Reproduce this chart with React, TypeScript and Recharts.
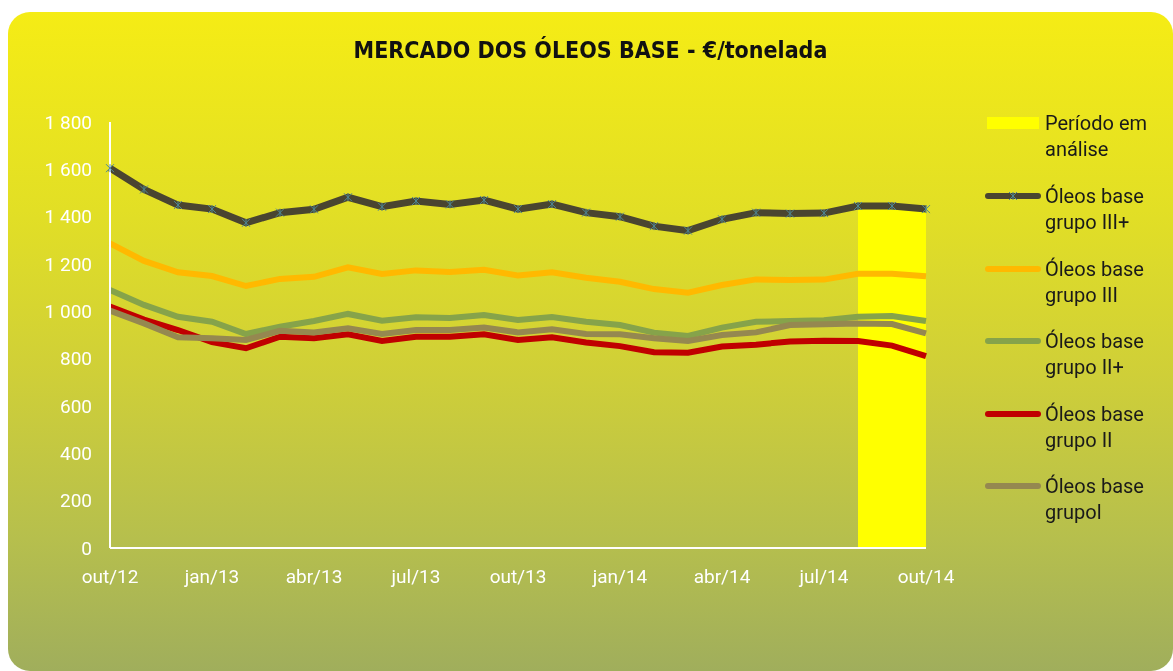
import React from 'react';
import { ComposedChart, Line, Area, XAxis, YAxis } from 'recharts';

// meses (out/12 a out/14)
const months = [
  'out/12', 'nov/12', 'dez/12', 'jan/13', 'fev/13', 'mar/13', 'abr/13', 'mai/13', 'jun/13',
  'jul/13', 'ago/13', 'set/13', 'out/13', 'nov/13', 'dez/13', 'jan/14', 'fev/14', 'mar/14',
  'abr/14', 'mai/14', 'jun/14', 'jul/14', 'ago/14', 'set/14', 'out/14',
];

const periodoAnalise = [
  null, null, null, null, null, null, null, null, null, null, null, null, null,
  null, null, null, null, null, null, null, null, null, 1445, 1445, 1432,
];
const grupoIIIPlus = [1605, 1515, 1449, 1432, 1374, 1417, 1431, 1482, 1442, 1466, 1452, 1470, 1432, 1453, 1417, 1400, 1360, 1341, 1389, 1417, 1413, 1415, 1445, 1445, 1432];
const grupoIII = [1287, 1213, 1165, 1149, 1107, 1137, 1146, 1186, 1158, 1173, 1166, 1176, 1151, 1165, 1142, 1125, 1094, 1079, 1111, 1135, 1132, 1134, 1159, 1159, 1148];
const grupoIIPlus = [1090, 1027, 977, 956, 904, 935, 959, 989, 960, 975, 972, 984, 963, 976, 956, 942, 910, 896, 931, 956, 959, 962, 977, 980, 959];
const grupoII = [1020, 965, 921, 870, 844, 893, 886, 903, 875, 893, 893, 903, 879, 890, 868, 853, 827, 825, 851, 859, 873, 876, 875, 855, 811];
const grupoI = [1003, 949, 890, 886, 879, 918, 911, 928, 904, 921, 921, 932, 911, 924, 904, 903, 886, 875, 900, 911, 942, 945, 949, 946, 907];

const yTicks = [0, 200, 400, 600, 800, 1000, 1200, 1400, 1600, 1800];

const series = [
  { key: 'g3p', name: ['Óleos base', 'grupo III+'], color: '#4a4530', width: 7 },
  { key: 'g3', name: ['Óleos base', 'grupo III'], color: '#ffb900', width: 6 },
  { key: 'g2p', name: ['Óleos base', 'grupo II+'], color: '#86a34a', width: 6 },
  { key: 'g2', name: ['Óleos base', 'grupo II'], color: '#c00000', width: 6 },
  { key: 'g1', name: ['Óleos base', 'grupol'], color: '#958850', width: 6 },
];

const data = months.map((m, i) => ({
  month: m,
  periodo: periodoAnalise[i],
  g3p: grupoIIIPlus[i],
  g3: grupoIII[i],
  g2p: grupoIIPlus[i],
  g2: grupoII[i],
  g1: grupoI[i],
}));

const fmtThousands = (v: number) =>
  v >= 1000 ? `${Math.floor(v / 1000)} ${String(v % 1000).padStart(3, '0')}` : String(v);

const StarDot: React.FC<any> = ({ cx, cy }) => {
  if (cx == null || cy == null) return null;
  const r = 4;
  return (
    <g stroke="#4f8794" strokeWidth={1}>
      <line x1={cx - r} y1={cy - r} x2={cx + r} y2={cy + r} />
      <line x1={cx - r} y1={cy + r} x2={cx + r} y2={cy - r} />
      <line x1={cx} y1={cy - r} x2={cx} y2={cy + r} />
    </g>
  );
};

const font = "Roboto, 'DejaVu Sans', sans-serif";

const App: React.FC = () => {
  return (
    <div
      style={{
        position: 'fixed',
        left: 8,
        top: 12,
        width: 1165,
        height: 659,
        borderRadius: 22,
        background: 'linear-gradient(to bottom, #f5ec15 0%, #e2df25 30%, #cfcf38 55%, #b6bf4d 80%, #a0ae5c 100%)',
        overflow: 'hidden',
      }}
    >
      <div
        style={{
          position: 'absolute',
          top: 25,
          left: 0,
          width: 1165,
          textAlign: 'center',
          fontFamily: "'Liberation Sans Narrow', 'DejaVu Sans Condensed', sans-serif",
          fontWeight: 'bold',
          fontSize: 23,
          lineHeight: '26px',
          color: '#111',
        }}
      >
        MERCADO DOS ÓLEOS BASE - €/tonelada
      </div>

      <div style={{ position: 'absolute', left: 0, top: 0 }}>
        <ComposedChart
          width={1165}
          height={659}
          data={data}
          margin={{ top: 110, right: 247, left: 42, bottom: 73 }}
        >
          <XAxis
            dataKey="month"
            interval={2}
            height={50}
            axisLine={{ stroke: '#ffffff', strokeWidth: 2 }}
            tickLine={false}
            tickSize={0}
            tickMargin={22}
            tick={{ fill: '#ffffff', fontSize: 19, fontFamily: font }}
          />
          <YAxis
            width={60}
            domain={[0, 1800]}
            ticks={yTicks}
            tickFormatter={fmtThousands}
            axisLine={{ stroke: '#ffffff', strokeWidth: 2 }}
            tickLine={false}
            tickSize={0}
            tickMargin={18}
            tick={{ fill: '#ffffff', fontSize: 19, fontFamily: font }}
          />
          <Area
            type="linear"
            dataKey="periodo"
            fill="#ffff00"
            fillOpacity={1}
            stroke="none"
            isAnimationActive={false}
          />
          {series.map((s) => (
            <Line
              key={s.key}
              type="linear"
              dataKey={s.key}
              stroke={s.color}
              strokeWidth={s.width}
              dot={s.key === 'g3p' ? <StarDot /> : false}
              activeDot={false}
              isAnimationActive={false}
            />
          ))}
        </ComposedChart>
      </div>

      {/* legenda */}
      <div style={{ position: 'absolute', left: 977, top: 98, width: 180, fontFamily: font, fontSize: 20, color: '#1a1a1a' }}>
        <div style={{ position: 'relative', height: 73 }}>
          <div style={{ position: 'absolute', left: 2, top: 7, width: 52, height: 12, background: '#ffff00' }} />
          <div style={{ position: 'absolute', left: 60, top: 0, lineHeight: '26px', whiteSpace: 'nowrap' }}>
            Período em<br />análise
          </div>
        </div>
        {series.map((s) => (
          <div key={s.key} style={{ position: 'relative', height: 72.6 }}>
            <div
              style={{
                position: 'absolute',
                left: 0,
                top: 10,
                width: 56,
                height: 6,
                borderRadius: 3,
                background: s.color,
              }}
            />
            {s.key === 'g3p' && (
              <svg style={{ position: 'absolute', left: 23, top: 8 }} width={10} height={10}>
                <StarDot cx={5} cy={5} />
              </svg>
            )}
            <div style={{ position: 'absolute', left: 60, top: 0, lineHeight: '26px', whiteSpace: 'nowrap' }}>
              {s.name[0]}
              <br />
              {s.name[1]}
            </div>
          </div>
        ))}
      </div>
    </div>
  );
};

export default App;
